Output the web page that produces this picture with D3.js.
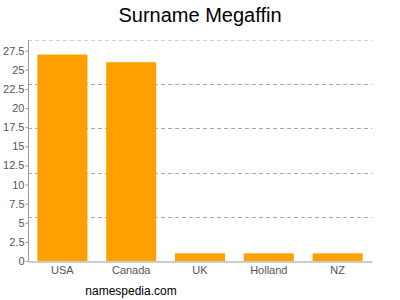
<!DOCTYPE html>
<html>
<head>
<meta charset="utf-8">
<script src="https://cdn.jsdelivr.net/npm/d3@7"></script>
<style>
  body { margin: 0; background: #fff; }
  svg { display: block; font-family: "Liberation Sans", Arial, sans-serif; }
</style>
</head>
<body>
<svg id="chart" width="400" height="300"></svg>
<script>
const countries = ["USA", "Canada", "UK", "Holland", "NZ"];
const counts = [27, 26, 1, 1, 1];
const yTicks = [0, 2.5, 5, 7.5, 10, 12.5, 15, 17.5, 20, 22.5, 25, 27.5];
const yMax = 28.9;
const gridCount = 5;

const margin = {left: 28, top: 40, right: 28, bottom: 39};
const width = 400 - margin.left - margin.right;
const height = 300 - margin.top - margin.bottom;

const svg = d3.select("#chart");
const g = svg.append("g")
    .attr("transform", `translate(${margin.left}, ${margin.top})`);

const x = d3.scaleBand()
    .domain(countries)
    .range([0, width])
    .paddingInner(0.273)
    .paddingOuter(0.1365);
const y = d3.scaleLinear().domain([0, yMax]).range([height, 0]);

// Grid lines
const gridVals = d3.range(1, gridCount + 1).map(function (i) {
    return yMax * i / gridCount;
});
g.selectAll("line.grid")
    .data(gridVals)
    .enter()
    .append("line")
    .attr("class", "grid")
    .attr("x1", 0)
    .attr("x2", width)
    .attr("y1", function (d) { return Math.round(y(d)) + 0.5; })
    .attr("y2", function (d) { return Math.round(y(d)) + 0.5; })
    .style("stroke", function (d, i) { return i === gridCount - 1 ? "#d0d0d0" : "#aaa"; })
    .style("stroke-dasharray", "4,3");

// Bars
g.selectAll("rect.bar")
    .data(counts)
    .enter()
    .append("rect")
    .attr("class", "bar")
    .attr("x", function (d, i) { return x(countries[i]); })
    .attr("width", x.bandwidth())
    .attr("y", function (d) { return y(d); })
    .attr("height", function (d) { return height - y(d); })
    .style("fill", "#ffa000");

// Y axis
const yAxis = g.append("g")
    .attr("transform", "translate(0.5, 0)")
    .call(d3.axisLeft(y).tickValues(yTicks).tickSize(3).tickSizeOuter(0).tickFormat(d3.format("")));
yAxis.select(".domain").remove();
yAxis.append("line")
    .attr("x1", 0).attr("x2", 0)
    .attr("y1", 0).attr("y2", height)
    .style("stroke", "#999");
yAxis.selectAll(".tick line").style("stroke", "#999");
yAxis.selectAll(".tick text")
    .attr("x", -4)
    .style("fill", "#555")
    .style("font-size", "11px")
    .style("font-family", "Liberation Sans, Arial, sans-serif");

// X axis
const xAxis = g.append("g")
    .attr("transform", `translate(0, ${height + 0.5})`)
    .call(d3.axisBottom(x).tickSize(0).tickSizeOuter(0));
xAxis.select(".domain").style("stroke", "#999");
xAxis.selectAll(".tick text")
    .attr("dy", "0.71em")
    .attr("y", 5)
    .style("fill", "#555")
    .style("font-size", "11px")
    .style("font-family", "Liberation Sans, Arial, sans-serif");

// Title
svg.append("text")
    .attr("x", 200)
    .attr("y", 22)
    .style("text-anchor", "middle")
    .style("font-size", "20px")
    .style("fill", "#000")
    .text("Surname Megaffin");

// Source
svg.append("text")
    .attr("x", 131)
    .attr("y", 295)
    .style("text-anchor", "middle")
    .style("font-size", "12px")
    .style("fill", "#000")
    .text("namespedia.com");
</script>
</body>
</html>
